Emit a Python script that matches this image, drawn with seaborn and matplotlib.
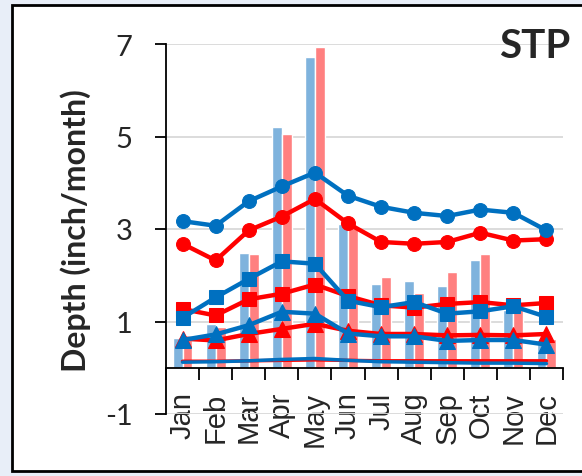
import numpy as np
import pandas as pd
import matplotlib
matplotlib.use("Agg")
import matplotlib.pyplot as plt
import seaborn as sns
from matplotlib.patches import Rectangle

# Dados
months = ["Jan", "Feb", "Mar", "Apr", "May", "Jun", "Jul", "Aug", "Sep", "Oct", "Nov", "Dec"]
bar_blue = [0.65, 0.95, 2.49, 5.2, 6.72, 3.1, 1.82, 1.88, 1.77, 2.34, 1.25, 0.6]
bar_red = [0.6, 0.88, 2.45, 5.05, 6.94, 3.05, 1.97, 1.62, 2.08, 2.45, 1.3, 0.63]
blue_circle = [3.17, 3.07, 3.6, 3.92, 4.22, 3.72, 3.48, 3.35, 3.28, 3.42, 3.35, 2.97]
red_circle = [2.68, 2.32, 2.97, 3.27, 3.65, 3.12, 2.72, 2.68, 2.72, 2.92, 2.75, 2.78]
blue_square = [1.08, 1.52, 1.92, 2.3, 2.25, 1.45, 1.31, 1.42, 1.17, 1.22, 1.33, 1.1]
red_square = [1.27, 1.13, 1.48, 1.6, 1.8, 1.55, 1.35, 1.3, 1.38, 1.42, 1.35, 1.4]
blue_tri = [0.6, 0.72, 0.92, 1.21, 1.17, 0.74, 0.68, 0.68, 0.58, 0.6, 0.6, 0.5]
red_tri = [0.63, 0.59, 0.73, 0.84, 0.95, 0.8, 0.73, 0.73, 0.7, 0.71, 0.7, 0.73]
blue_flat = [0.12, 0.13, 0.15, 0.18, 0.2, 0.16, 0.13, 0.12, 0.11, 0.1, 0.1, 0.09]
red_flat = [0.14, 0.14, 0.15, 0.16, 0.17, 0.16, 0.15, 0.15, 0.15, 0.15, 0.15, 0.15]

BLUE = "#0070C0"
RED = "#FF0000"

sns.set_style("white")
plt.rcParams["font.family"] = ["Lato", "DejaVu Sans"]

fig = plt.figure(figsize=(5.82, 4.77), dpi=100)
fig.patch.set_facecolor("#e8eef8")
# painel branco com borda preta
fig.patches.append(Rectangle((12 / 582, 1 - 472 / 477), 1.0, 466 / 477, transform=fig.transFigure,
                             facecolor="white", edgecolor="black", linewidth=2, zorder=-10))

ax = fig.add_axes([166 / 582, 1 - 415 / 477, 397 / 582, 370 / 477])
ax.set_facecolor("none")

# barras
df = pd.DataFrame({
    "month": months * 2,
    "depth": bar_blue + bar_red,
    "serie": ["b"] * 12 + ["r"] * 12,
})
sns.barplot(data=df, x="month", y="depth", hue="serie", palette=["#7fb3dd", "#ff8080"],
            width=0.6, gap=0, legend=False, ax=ax, saturation=1, zorder=2)

x = np.arange(12)
lines = [
    (red_flat, RED, None, 0),
    (blue_flat, BLUE, None, 0),
    (red_tri, RED, "^", 11),
    (blue_tri, BLUE, "^", 11),
    (red_square, RED, "s", 10),
    (blue_square, BLUE, "s", 10),
    (red_circle, RED, "o", 10),
    (blue_circle, BLUE, "o", 10),
]
for vals, cor, mk, ms in lines:
    if mk is None:
        sns.lineplot(x=x, y=vals, color=cor, linewidth=2.5, ax=ax, zorder=3)
    else:
        sns.lineplot(x=x, y=vals, color=cor, linewidth=3.2, marker=mk, markersize=ms,
                     markeredgecolor=cor, ax=ax, zorder=3)

ax.set_xlim(-0.5, 11.5)
ax.set_ylim(-1, 7)
ax.set_yticks([-1, 1, 3, 5, 7])
ax.set_yticklabels(["-1", "1", "3", "5", "7"], fontsize=21)
ax.yaxis.grid(True, color="#d9d9d9", linewidth=1.3)
ax.set_axisbelow(True)

ax.set_xticks(x)
ax.set_xticklabels(months)
ax.set_xticks(np.arange(-0.5, 12, 1), minor=True)
ax.tick_params(axis="x", which="major", length=0, pad=17)
ax.tick_params(axis="x", which="minor", length=8.5, width=1.3, color="black", direction="out", bottom=True)
ax.tick_params(axis="y", length=8, width=1.3, color="black", direction="out", left=True, pad=16)

ax.spines["top"].set_visible(False)
ax.spines["right"].set_visible(False)
ax.spines["bottom"].set_position(("data", 0))
ax.spines["bottom"].set_linewidth(1.3)
ax.spines["left"].set_linewidth(1.3)
ax.spines["left"].set_color("black")
ax.spines["bottom"].set_color("black")

ax.set_xlabel("")
ax.set_ylabel("Depth (inch/month)", fontsize=23, fontweight="bold")
ax.yaxis.set_label_coords(-0.19, 0.497)

fig.text(535 / 582, 1 - 46 / 477, "STP", fontsize=29, fontweight="bold", ha="center", va="center")

fig.canvas.draw()
for lbl in ax.get_xticklabels():
    lbl.set_rotation(90)
    lbl.set_fontsize(21)
    lbl.set_fontfamily("Liberation Sans")

fig.savefig("out.png", dpi=100, facecolor=fig.get_facecolor())
